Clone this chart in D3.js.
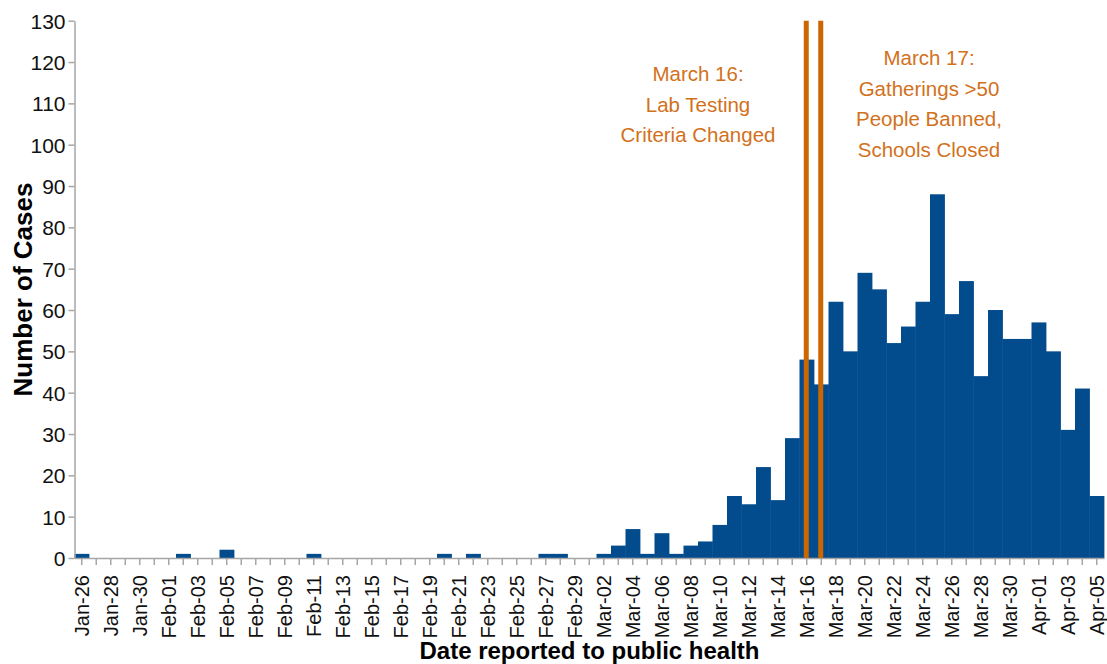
<!DOCTYPE html>
<html>
<head>
<meta charset="utf-8">
<script src="https://cdn.jsdelivr.net/npm/d3@7"></script>
<style>
  html, body { margin: 0; padding: 0; background: #fff; }
  svg { display: block; font-family: "Liberation Sans", Arial, Helvetica, sans-serif; }
</style>
</head>
<body>
<svg id="chart" width="1107" height="664"></svg>
<script>
const categories = [
  "Jan-26","Jan-27","Jan-28","Jan-29","Jan-30","Jan-31",
  "Feb-01","Feb-02","Feb-03","Feb-04","Feb-05","Feb-06","Feb-07","Feb-08","Feb-09","Feb-10",
  "Feb-11","Feb-12","Feb-13","Feb-14","Feb-15","Feb-16","Feb-17","Feb-18","Feb-19","Feb-20",
  "Feb-21","Feb-22","Feb-23","Feb-24","Feb-25","Feb-26","Feb-27","Feb-28","Feb-29",
  "Mar-01","Mar-02","Mar-03","Mar-04","Mar-05","Mar-06","Mar-07","Mar-08","Mar-09","Mar-10",
  "Mar-11","Mar-12","Mar-13","Mar-14","Mar-15","Mar-16","Mar-17","Mar-18","Mar-19","Mar-20",
  "Mar-21","Mar-22","Mar-23","Mar-24","Mar-25","Mar-26","Mar-27","Mar-28","Mar-29","Mar-30","Mar-31",
  "Apr-01","Apr-02","Apr-03","Apr-04","Apr-05"
];
const cases = [
  1,0,0,0,0,0,
  0,1,0,0,2,0,0,0,0,0,
  1,0,0,0,0,0,0,0,0,1,
  0,1,0,0,0,0,1,1,0,
  0,1,3,7,1,6,1,3,4,8,
  15,13,22,14,29,48,42,62,50,69,
  65,52,56,62,88,59,67,44,60,53,53,
  57,50,31,41,15
];
const tickLabels = [
  "Jan-26","Jan-28","Jan-30","Feb-01","Feb-03","Feb-05","Feb-07","Feb-09","Feb-11","Feb-13",
  "Feb-15","Feb-17","Feb-19","Feb-21","Feb-23","Feb-25","Feb-27","Feb-29","Mar-02","Mar-04",
  "Mar-06","Mar-08","Mar-10","Mar-12","Mar-14","Mar-16","Mar-18","Mar-20","Mar-22","Mar-24",
  "Mar-26","Mar-28","Mar-30","Apr-01","Apr-03","Apr-05"
];
const yTicks = [0,10,20,30,40,50,60,70,80,90,100,110,120,130];
const eventDates = ["Mar-16","Mar-17"];
const annotations = [
  { lines: ["March 16:", "Lab Testing", "Criteria Changed"], x: 698, y: 81 },
  { lines: ["March 17:", "Gatherings >50", "People Banned,", "Schools Closed"], x: 929, y: 65 }
];

const svg = d3.select("#chart");
const plotLeft = 74.5, plotRight = 1104, plotTop = 20.7, plotBottom = 558;

const x = d3.scaleBand().domain(categories).range([plotLeft, plotRight]).padding(0);
const y = d3.scaleLinear().domain([0, 130]).range([plotBottom, plotTop]);

const barColor = "#024b8d";
const axisColor = "#a6a6a6";
const orange = "#cc6600";
const textOrange = "#d2711c";

// bars
svg.append("g").selectAll("rect")
  .data(categories.map((c, i) => ({ c, v: cases[i] })))
  .join("rect")
  .attr("x", d => x(d.c))
  .attr("width", x.bandwidth() + 0.4)
  .attr("y", d => y(d.v))
  .attr("height", d => y(0) - y(d.v))
  .attr("fill", barColor);

// x axis
const xAxis = d3.axisBottom(x)
  .tickSize(7)
  .tickSizeOuter(0)
  .tickFormat(d => tickLabels.includes(d) ? d : "");
const gx = svg.append("g").attr("transform", `translate(0,${plotBottom})`).call(xAxis);
gx.select(".domain").attr("stroke", axisColor).attr("stroke-width", 1.5);
gx.selectAll(".tick line").attr("stroke", axisColor).attr("stroke-width", 1.5);
gx.selectAll(".tick text")
  .attr("font-size", 20)
  .attr("fill", "#111")
  .attr("font-family", "Liberation Sans, Arial, sans-serif")
  .attr("transform", "rotate(-90)")
  .attr("text-anchor", "end")
  .attr("dy", "0.35em")
  .attr("x", -17)
  .attr("y", 0);

// y axis
const yAxis = d3.axisLeft(y).tickValues(yTicks).tickSize(6).tickSizeOuter(0);
const gy = svg.append("g").attr("transform", `translate(${plotLeft},0)`).call(yAxis);
gy.select(".domain").attr("stroke", axisColor).attr("stroke-width", 1.5);
gy.selectAll(".tick line").attr("stroke", axisColor).attr("stroke-width", 1.5);
gy.selectAll(".tick text")
  .attr("font-size", 21)
  .attr("fill", "#111")
  .attr("font-family", "Liberation Sans, Arial, sans-serif")
  .attr("x", -9)
  .attr("dy", "0.36em");

// event lines
svg.append("g").selectAll("line")
  .data(eventDates)
  .join("line")
  .attr("x1", d => x(d) + x.bandwidth() / 2 - 0.5)
  .attr("x2", d => x(d) + x.bandwidth() / 2 - 0.5)
  .attr("y1", y(130))
  .attr("y2", y(0))
  .attr("stroke", orange)
  .attr("stroke-width", 5);

// annotations
annotations.forEach(a => {
  const t = svg.append("text")
    .attr("text-anchor", "middle")
    .attr("fill", textOrange)
    .attr("font-size", 20.5);
  a.lines.forEach((l, i) => {
    t.append("tspan").attr("x", a.x).attr("y", a.y + i * 30.6).text(l);
  });
});

// axis titles
svg.append("text")
  .attr("transform", `translate(31.5,${(182 + 397) / 2}) rotate(-90)`)
  .attr("text-anchor", "middle")
  .attr("font-weight", "bold")
  .attr("font-size", 26)
  .attr("fill", "#000")
  .text("Number of Cases");

svg.append("text")
  .attr("x", 589.5)
  .attr("y", 658.5)
  .attr("text-anchor", "middle")
  .attr("font-weight", "bold")
  .attr("font-size", 24)
  .attr("fill", "#000")
  .text("Date reported to public health");
</script>
</body>
</html>
